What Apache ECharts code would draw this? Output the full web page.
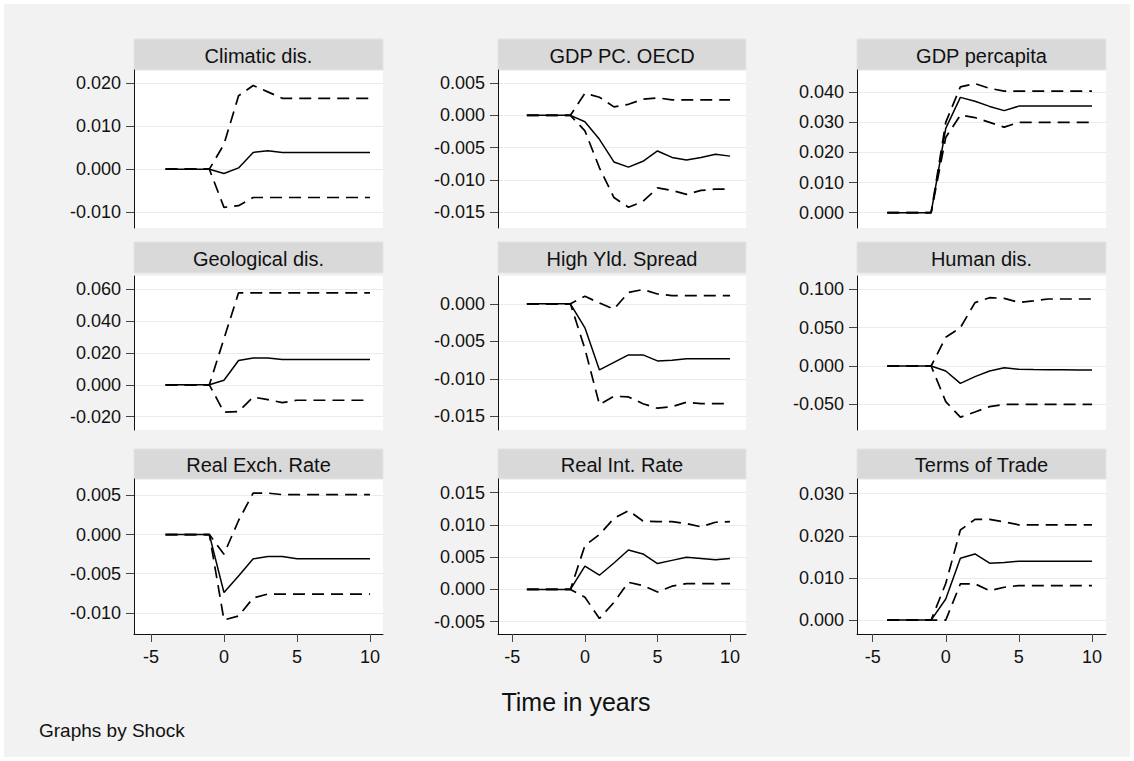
<!DOCTYPE html>
<html>
<head>
<meta charset="utf-8">
<script src="https://cdn.jsdelivr.net/npm/echarts@6/dist/echarts.min.js"></script>
<style>
  html, body { margin: 0; padding: 0; background: #fff; }
  #chart { width: 1134px; height: 761px; background: #f2f2f2; box-shadow: inset 0 0 0 4px #fff; }
</style>
</head>
<body>
<div id="chart"></div>
<script>
// Impulse responses by shock: point estimate with lower / upper bands, periods -4..10
const periods = [-4, -3, -2, -1, 0, 1, 2, 3, 4, 5, 6, 7, 8, 9, 10];

const climaticIrf = [0, 0, 0, 0, -0.0010, 0.0003, 0.0039, 0.0043, 0.0039, 0.0039, 0.0039, 0.0039, 0.0039, 0.0039, 0.0039];
const climaticLo  = [0, 0, 0, 0, -0.0089, -0.0085, -0.0066, -0.0066, -0.0066, -0.0066, -0.0066, -0.0066, -0.0066, -0.0066, -0.0066];
const climaticHi  = [0, 0, 0, 0, 0.0058, 0.0171, 0.0195, 0.0180, 0.0165, 0.0165, 0.0165, 0.0165, 0.0165, 0.0165, 0.0165];

const oecdIrf = [0, 0, 0, 0, -0.0010, -0.0037, -0.0072, -0.0080, -0.0071, -0.0055, -0.0065, -0.0069, -0.0065, -0.0060, -0.0063];
const oecdLo  = [0, 0, 0, 0, -0.0024, -0.0081, -0.0127, -0.0142, -0.0133, -0.0112, -0.0116, -0.0122, -0.0116, -0.0114, -0.0114];
const oecdHi  = [0, 0, 0, 0, 0.0034, 0.0028, 0.0013, 0.0017, 0.0025, 0.0027, 0.0024, 0.0024, 0.0024, 0.0024, 0.0024];

const gdpIrf = [0, 0, 0, 0, 0.0280, 0.0383, 0.0370, 0.0353, 0.0339, 0.0354, 0.0354, 0.0354, 0.0354, 0.0354, 0.0354];
const gdpLo  = [0, 0, 0, 0, 0.0250, 0.0324, 0.0316, 0.0300, 0.0284, 0.0300, 0.0300, 0.0300, 0.0300, 0.0300, 0.0300];
const gdpHi  = [0, 0, 0, 0, 0.0300, 0.0418, 0.0429, 0.0413, 0.0404, 0.0404, 0.0404, 0.0404, 0.0404, 0.0404, 0.0404];

const geoIrf = [0, 0, 0, 0, 0.0029, 0.0153, 0.0169, 0.0169, 0.0159, 0.0159, 0.0159, 0.0159, 0.0159, 0.0159, 0.0159];
const geoLo  = [0, 0, 0, 0, -0.0172, -0.0168, -0.0077, -0.0093, -0.0112, -0.0097, -0.0097, -0.0097, -0.0097, -0.0097, -0.0097];
const geoHi  = [0, 0, 0, 0, 0.0290, 0.0578, 0.0578, 0.0578, 0.0578, 0.0578, 0.0578, 0.0578, 0.0578, 0.0578, 0.0578];

const yieldIrf = [0, 0, 0, 0, -0.0032, -0.0088, -0.0078, -0.0068, -0.0068, -0.0076, -0.0075, -0.0073, -0.0073, -0.0073, -0.0073];
const yieldLo  = [0, 0, 0, 0, -0.0060, -0.0134, -0.0123, -0.0124, -0.0133, -0.0139, -0.0137, -0.0131, -0.0133, -0.0133, -0.0133];
const yieldHi  = [0, 0, 0, 0, 0.0010, 0.0001, -0.0007, 0.0015, 0.0019, 0.0013, 0.0011, 0.0011, 0.0011, 0.0011, 0.0011];

const humanIrf = [0, 0, 0, 0, -0.0065, -0.0226, -0.0139, -0.0065, -0.0022, -0.0043, -0.0047, -0.0050, -0.0050, -0.0052, -0.0052];
const humanLo  = [0, 0, 0, 0, -0.0464, -0.0668, -0.0600, -0.0530, -0.0500, -0.0500, -0.0500, -0.0500, -0.0500, -0.0500, -0.0500];
const humanHi  = [0, 0, 0, 0, 0.0375, 0.0500, 0.0826, 0.0891, 0.0883, 0.0830, 0.0850, 0.0874, 0.0874, 0.0874, 0.0874];

const exchIrf = [0, 0, 0, 0, -0.0074, -0.0053, -0.0031, -0.0028, -0.0028, -0.0031, -0.0031, -0.0031, -0.0031, -0.0031, -0.0031];
const exchLo  = [0, 0, 0, 0, -0.0109, -0.0104, -0.0081, -0.0076, -0.0076, -0.0076, -0.0076, -0.0076, -0.0076, -0.0076, -0.0076];
const exchHi  = [0, 0, 0, 0, -0.0025, 0.0018, 0.0053, 0.0053, 0.0051, 0.0051, 0.0051, 0.0051, 0.0051, 0.0051, 0.0051];

const rateIrf = [0, 0, 0, 0, 0.0036, 0.0022, 0.0041, 0.0061, 0.0055, 0.0040, 0.0045, 0.0050, 0.0048, 0.0046, 0.0048];
const rateLo  = [0, 0, 0, 0, -0.0012, -0.0045, -0.0020, 0.0011, 0.0006, -0.0004, 0.0005, 0.0009, 0.0009, 0.0009, 0.0009];
const rateHi  = [0, 0, 0, 0, 0.0068, 0.0085, 0.0110, 0.0122, 0.0106, 0.0105, 0.0105, 0.0102, 0.0097, 0.0104, 0.0105];

const totIrf = [0, 0, 0, 0, 0.0050, 0.0147, 0.0157, 0.0135, 0.0137, 0.0140, 0.0140, 0.0140, 0.0140, 0.0140, 0.0140];
const totLo  = [0, 0, 0, 0, 0.0000, 0.0086, 0.0086, 0.0070, 0.0078, 0.0082, 0.0082, 0.0082, 0.0082, 0.0082, 0.0082];
const totHi  = [0, 0, 0, 0, 0.0087, 0.0214, 0.0239, 0.0239, 0.0233, 0.0226, 0.0226, 0.0226, 0.0226, 0.0226, 0.0226];

// y tick values for each panel
const climaticTicks = [-0.01, 0, 0.01, 0.02];
const oecdTicks     = [-0.015, -0.01, -0.005, 0, 0.005];
const gdpTicks      = [0, 0.01, 0.02, 0.03, 0.04];
const geoTicks      = [-0.02, 0, 0.02, 0.04, 0.06];
const yieldTicks    = [-0.015, -0.01, -0.005, 0];
const humanTicks    = [-0.05, 0, 0.05, 0.1];
const exchTicks     = [-0.01, -0.005, 0, 0.005];
const rateTicks     = [-0.005, 0, 0.005, 0.01, 0.015];
const totTicks      = [0, 0.01, 0.02, 0.03];
const xTicks        = [-5, 0, 5, 10];

const panels = [
  { title: 'Climatic dis.',    irf: climaticIrf, lo: climaticLo, hi: climaticHi, ticks: climaticTicks, yr: [-0.0137, 0.0231] },
  { title: 'GDP PC. OECD',     irf: oecdIrf,     lo: oecdLo,     hi: oecdHi,     ticks: oecdTicks,     yr: [-0.0174, 0.0070] },
  { title: 'GDP percapita',    irf: gdpIrf,      lo: gdpLo,      hi: gdpHi,      ticks: gdpTicks,      yr: [-0.0051, 0.0474] },
  { title: 'Geological dis.',  irf: geoIrf,      lo: geoLo,      hi: geoHi,      ticks: geoTicks,      yr: [-0.0284, 0.0684] },
  { title: 'High Yld. Spread', irf: yieldIrf,    lo: yieldLo,    hi: yieldHi,    ticks: yieldTicks,    yr: [-0.0168, 0.0037] },
  { title: 'Human dis.',       irf: humanIrf,    lo: humanLo,    hi: humanHi,    ticks: humanTicks,    yr: [-0.0835, 0.1174] },
  { title: 'Real Exch. Rate',  irf: exchIrf,     lo: exchLo,     hi: exchHi,     ticks: exchTicks,     yr: [-0.0127, 0.0071] },
  { title: 'Real Int. Rate',   irf: rateIrf,     lo: rateLo,     hi: rateHi,     ticks: rateTicks,     yr: [-0.0069, 0.0171] },
  { title: 'Terms of Trade',   irf: totIrf,      lo: totLo,      hi: totHi,      ticks: totTicks,      yr: [-0.0033, 0.0335] }
];

// layout of the 3 x 3 panel matrix (pixels)
const colLeft = [134, 498, 857];
const colWidth = [249, 248, 249];
const colXRange = [[-6.16, 10.89], [-5.99, 11.1], [-6.07, 10.96]];
const rowTop = [70, 276, 479];
const rowHeight = [158, 154, 155];
const stripTop = [39, 242, 449];
const stripBottom = [70, 273, 479];

const FONT = '"Liberation Sans", Arial, Helvetica, sans-serif';

const grids = [], xAxes = [], yAxes = [], series = [], graphics = [];

panels.forEach((p, i) => {
  const r = Math.floor(i / 3), c = i % 3;
  const bottomRow = r === 2;
  grids.push({
    left: colLeft[c], top: rowTop[r], width: colWidth[c], height: rowHeight[r],
    show: true, backgroundColor: '#ffffff', borderWidth: 0, containLabel: false
  });
  xAxes.push({
    type: 'value', gridIndex: i, min: colXRange[c][0], max: colXRange[c][1],
    show: bottomRow,
    axisLine: { show: true, onZero: false, lineStyle: { color: '#111', width: 1 } },
    axisTick: { show: true, length: 8, customValues: xTicks, lineStyle: { color: '#444', width: 1 } },
    axisLabel: { show: true, customValues: xTicks, margin: 14, fontSize: 18, fontFamily: FONT, color: '#111',
                 formatter: v => String(v) },
    splitLine: { show: false }
  });
  yAxes.push({
    type: 'value', gridIndex: i, min: p.yr[0], max: p.yr[1],
    axisLine: { show: true, onZero: false, lineStyle: { color: '#111', width: 1 } },
    axisTick: { show: true, length: 8, customValues: p.ticks, lineStyle: { color: '#444', width: 1 } },
    axisLabel: { show: true, customValues: p.ticks, margin: 13, fontSize: 18, fontFamily: FONT, color: '#111',
                 formatter: v => (Math.abs(v) < 1e-12 ? 0 : v).toFixed(3) },
    splitLine: { show: true, lineStyle: { color: '#ebebeb', width: 1 } }
  });

  const toPts = arr => periods.map((t, k) => [t, arr[k]]);
  const dashed = { color: '#000', width: 1.7, type: [12, 7] };
  series.push(
    { type: 'line', name: p.title + ' lower', xAxisIndex: i, yAxisIndex: i, data: toPts(p.lo),
      showSymbol: false, lineStyle: dashed, silent: true },
    { type: 'line', name: p.title + ' upper', xAxisIndex: i, yAxisIndex: i, data: toPts(p.hi),
      showSymbol: false, lineStyle: dashed, silent: true },
    { type: 'line', name: p.title, xAxisIndex: i, yAxisIndex: i, data: toPts(p.irf),
      showSymbol: false, lineStyle: { color: '#000', width: 1.5, type: 'solid' }, silent: true }
  );

  // panel title strip
  graphics.push({
    type: 'rect', silent: true,
    shape: { x: colLeft[c], y: stripTop[r], width: colWidth[c], height: stripBottom[r] - stripTop[r] },
    style: { fill: '#d9d9d9', stroke: '#e4e4e4', lineWidth: 1 }
  });
  graphics.push({
    type: 'text', silent: true,
    x: colLeft[c] + colWidth[c] / 2, y: (stripTop[r] + stripBottom[r]) / 2 + 1,
    style: { text: p.title, fill: '#111', font: '20px ' + FONT,
             align: 'center', verticalAlign: 'middle', textAlign: 'center', textVerticalAlign: 'middle' }
  });
});

graphics.push({
  type: 'text', silent: true, x: 576, y: 702,
  style: { text: 'Time in years', fill: '#111', font: '25px ' + FONT,
           align: 'center', verticalAlign: 'middle', textAlign: 'center', textVerticalAlign: 'middle' }
});
graphics.push({
  type: 'text', silent: true, x: 39, y: 730,
  style: { text: 'Graphs by Shock', fill: '#111', font: '19px ' + FONT,
           align: 'left', verticalAlign: 'middle', textAlign: 'left', textVerticalAlign: 'middle' }
});

const chart = echarts.init(document.getElementById('chart'), null, { renderer: 'svg' });
chart.setOption({
  animation: false,
  grid: grids,
  xAxis: xAxes,
  yAxis: yAxes,
  series: series,
  graphic: graphics
});
</script>
</body>
</html>
